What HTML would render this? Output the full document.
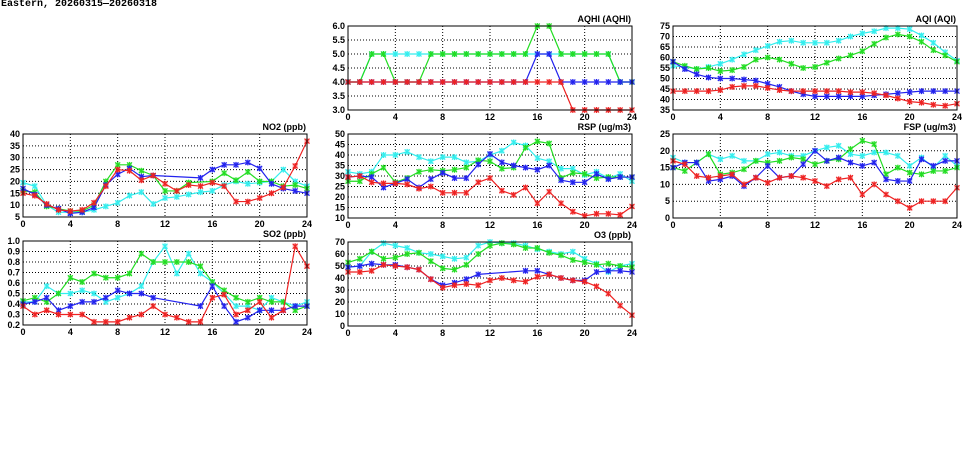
<!DOCTYPE html>
<html><head><meta charset="utf-8"><style>
html,body{margin:0;padding:0;background:#fff;}
body{width:975px;height:447px;overflow:hidden;position:relative;}
#title{position:absolute;left:1px;top:-1px;font:bold 10px "Liberation Mono",monospace;color:#000;}
svg text{font-family:"Liberation Sans",sans-serif;font-weight:bold;font-size:9px;fill:#000;}
</style></head><body>
<div id="title">Eastern, 20260315—20260318</div>
<svg id="chart" width="975" height="447"></svg>
<script>
const hours = [0,1,2,3,4,5,6,7,8,9,10,11,12,13,14,15,16,17,18,19,20,21,22,23,24];
const xTicks = [0,4,8,12,16,20,24];
const seriesNames = ["cyan","green","blue","red"];
const seriesColors = ["#33eeee","#22dd22","#2222ee","#ee2222"];
const N = null;

const no2Red = [15,14,10.5,8,7.5,8,11,18,25,24.5,20.5,22.5,19,16,18.5,18,19.5,18,11.5,11.5,13,15,17.5,26.5,37];
const no2Green = [16,15.5,9.5,8.5,7.5,7.5,10,20,27,27,24.5,22.5,16,16,19.5,N,20,23.5,20.5,24,20,20,18,18.5,17];
const no2Blue = [17,14.5,10,8.5,6.5,7,9,18.5,23,25.5,22,22.5,N,N,N,21.5,25,27,27,28,25.5,19,17,16,15];
const no2Cyan = [19.5,18,10,7,7,7,8,9.5,11,14,15.5,10.5,13,13.5,14.5,15.5,16,18.5,20,19,19.5,20,25,20,18];
const no2Ticks = [5,10,15,20,25,30,35,40];

const so2Red = [.38,.30,.34,.30,.30,.30,.23,.23,.23,.27,.30,.38,.30,.27,.23,.23,.46,.49,.30,.34,.42,.27,.34,.95,.76];
const so2Green = [.43,.46,.42,.50,.65,.61,.69,.65,.65,.69,.88,.80,.80,.80,.80,.76,.61,.53,.46,.42,.46,.42,.42,.34,.38];
const so2Blue = [.40,.42,.46,.34,.38,.42,.42,.46,.53,.50,.50,.46,N,N,N,.38,.57,.38,.23,.27,.34,.34,.34,.38,.38];
const so2Cyan = [.42,.42,.57,.50,.50,.53,.50,.42,.46,.50,.57,.80,.95,.69,.88,.69,.61,.50,.38,.38,.34,.46,.42,.38,.42];
const so2Ticks = [0.2,0.3,0.4,0.5,0.6,0.7,0.8,0.9,1.0];

const aqhiRed = [4,4,4,4,4,4,4,4,4,4,4,4,4,4,4,4,4,4,4,3,3,3,3,3,3];
const aqhiGreen = [4,4,5,5,4,4,4,5,5,5,5,5,5,5,5,5,6,6,5,5,5,5,5,4,4];
const aqhiBlue = [4,4,4,4,4,4,4,4,4,4,4,4,4,4,4,4,5,5,4,4,4,4,4,4,4];
const aqhiCyan = [4,4,5,5,5,5,5,5,5,5,5,5,5,5,5,5,5,5,5,5,5,5,5,4,4];
const aqhiTicks = [3.0,3.5,4.0,4.5,5.0,5.5,6.0];

const rspRed = [29.5,30,27,26.5,26.5,26,24,25,22,22,22,27,29,23,21,24.5,17,22.5,17,13,11,12,12,11.5,15.5];
const rspGreen = [27.5,27.5,31,34,27,29,32,33,32.5,33,34,37.5,37,33.5,34,43.5,46.5,45.5,29,31.5,31,29,29.5,29.5,29.5];
const rspBlue = [29.5,30,29.5,24.5,26.5,28.5,24.5,28.5,31.5,29,29,35.5,40.5,36.5,35,34,33,35,28,27,27,31,28.5,29.5,29.5];
const rspCyan = [32,31,32,40,40,41.5,39,37,39,39,36.5,37,40,42,46,44.5,38.5,37,33.5,33.5,30.5,32,29,31,27.5];
const rspTicks = [10,15,20,25,30,35,40,45,50];

const o3Red = [45,45,46,51,50,49,47,39,32,34,35,34,38,40,38,37,41,43,40,38,37,33,27,17,9];
const o3Green = [53,56,62,56,57,60,61,54,48,47,51,60,67,69,68,65,65,61,59,55,53,51,52,50,49];
const o3Blue = [49,50,52,51,51,49,47,39,34,36,39,43,N,N,N,46,46,43,40,38,38,45,46,46,45];
const o3Cyan = [49,50,62,69,67,65,61,60,58,56,57,67,70,69,69,67,64,62,60,62,56,52,45,50,52];
const o3Ticks = [0,10,20,30,40,50,60,70];

const aqiRed = [44,44,44,44,44.5,46,46.5,46.5,45.5,44.5,44,44,44,44,44,43.5,43.5,43,42,40.5,39,38.5,37.5,37,38];
const aqiGreen = [58,56,54.5,55,53.5,54,55.5,59,60,59,57,55,55.5,57.5,59.5,61,63,66.5,69.5,71,70,67.5,63.5,61,58];
const aqiBlue = [58,54.5,52,50.5,50,50,49.5,49,47.5,46,44,42.5,41.5,41.5,41.5,41.5,41.5,42,42.5,43,43.5,44,44,44,44];
const aqiCyan = [56,55.5,54.5,55.5,57,59,61.5,63.5,65.5,67.5,68,67,67,67,68,70,71.5,72.5,74,74,73.5,70.5,67,62.5,58.5];
const aqiTicks = [35,40,45,50,55,60,65,70,75];

const fspRed = [17,16,12.5,12,12.5,13,10,12,10.5,12,12.5,12,11,9.5,11.5,12,7,10,7,5,3,5,5,5,9];
const fspGreen = [15,14,16.5,19,13,13.5,14.5,17,16.5,17,18,17.5,16,17,17.5,20.5,23,22,13,15,13.5,13,14,14,15];
const fspBlue = [15,16.5,16.5,11,11.5,12.5,9.5,12,15.5,12,12.5,16,20,17,18,16.5,15.5,16.5,11.5,11,11,17.5,15.5,17,17];
const fspCyan = [18,16.5,16.5,19,17.5,18.5,17,17,19,19.5,18.5,18.5,20,21,21.5,19,18.5,19.5,19.5,18.5,15.5,18,15,18.5,15.5];
const fspTicks = [0,5,10,15,20,25];

const svg = document.getElementById('chart');
const NS = 'http://www.w3.org/2000/svg';
function mk(tag, attrs, parent){
  const e = document.createElementNS(NS, tag);
  for (const k in attrs) e.setAttribute(k, attrs[k]);
  (parent||svg).appendChild(e);
  return e;
}

function panel(key, title, x0, y0, w, h, ticks, dec, series){
  const g = mk('g', {});
  
  
  const ymin = ticks[0], ymax = ticks[ticks.length-1];
  const sx = v => x0 + (v/24)*w;
  const sy = v => y0 + h - (v-ymin)/(ymax-ymin)*h;
  xTicks.forEach(t => {
    if (t>0 && t<24) {
      const l = mk('line',{x1:sx(t),x2:sx(t),y1:y0,y2:y0+h,stroke:'#000','stroke-width':1,'stroke-dasharray':'1,2'},g);
      
      
    }
    const tx = mk('text',{x:sx(t),y:y0+h+10,'text-anchor':'middle'},g);
    tx.textContent = t;
    
    
  });
  ticks.forEach(t => {
    if (t>ymin && t<ymax) {
      const l = mk('line',{x1:x0,x2:x0+w,y1:sy(t),y2:sy(t),stroke:'#000','stroke-width':1,'stroke-dasharray':'1,2'},g);
      
      
    }
    const tx = mk('text',{x:x0-3,y:sy(t)+3,'text-anchor':'end'},g);
    tx.textContent = t.toFixed(dec);
    
    
  });
  const ttl = mk('text',{x:x0+w-1,y:y0-4,'text-anchor':'end'},g);
  ttl.textContent = title;
  
  
  series.forEach((vals, si) => {
    const col = seriesColors[si];
    const pts = [];
    vals.forEach((v,i) => { if (v!==null) pts.push([sx(hours[i]), sy(v)]); });
    const pl = mk('polyline',{points:pts.map(p=>p.join(',')).join(' '),fill:'none',stroke:col,'stroke-width':1.2},g);
    
    
    pts.forEach(p => {
      const m = mk('g',{},g);
      
      
      mk('rect',{x:p[0]-2.5,y:p[1]-2.5,width:5,height:5,fill:col,'fill-opacity':0.4},m);
      mk('path',{d:`M${p[0]-2.5},${p[1]-2.5}L${p[0]+2.5},${p[1]+2.5}M${p[0]-2.5},${p[1]+2.5}L${p[0]+2.5},${p[1]-2.5}M${p[0]},${p[1]-3}L${p[0]},${p[1]+3}`,stroke:col,'stroke-width':1.1},m);
    });
  });
  const fr = mk('rect',{x:x0,y:y0,width:w,height:h,fill:'none',stroke:'#000','stroke-width':1},g);
  
  
}

panel('aqhi','AQHI (AQHI)',348,26,284,84,aqhiTicks,1,[aqhiCyan,aqhiGreen,aqhiBlue,aqhiRed]);
panel('aqi','AQI (AQI)',673,26,284,84,aqiTicks,0,[aqiCyan,aqiGreen,aqiBlue,aqiRed]);
panel('no2','NO2 (ppb)',23,134,284,83,no2Ticks,0,[no2Cyan,no2Green,no2Blue,no2Red]);
panel('rsp','RSP (ug/m3)',348,134,284,84,rspTicks,0,[rspCyan,rspGreen,rspBlue,rspRed]);
panel('fsp','FSP (ug/m3)',673,134,284,84,fspTicks,0,[fspCyan,fspGreen,fspBlue,fspRed]);
panel('so2','SO2 (ppb)',23,241,284,84,so2Ticks,1,[so2Cyan,so2Green,so2Blue,so2Red]);
panel('o3','O3 (ppb)',348,242,284,84,o3Ticks,0,[o3Cyan,o3Green,o3Blue,o3Red]);
</script>
</body></html>
